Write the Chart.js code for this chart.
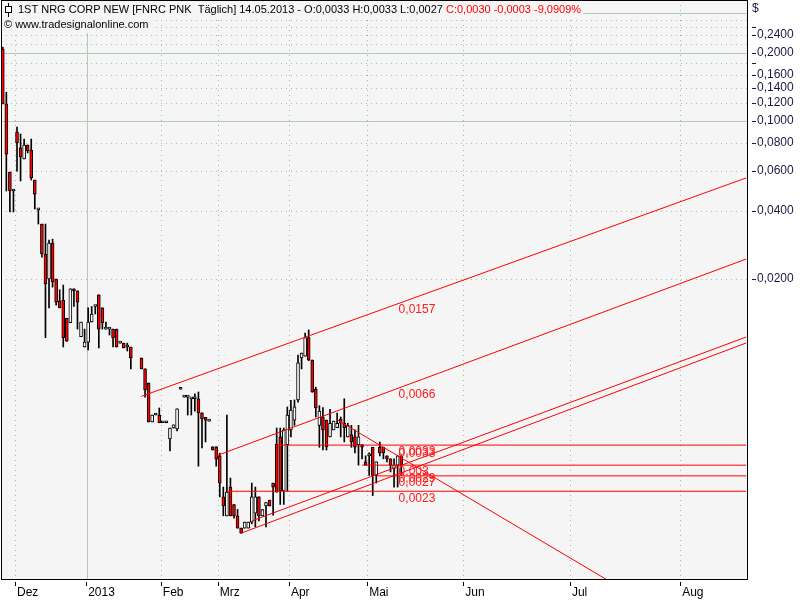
<!DOCTYPE html>
<html>
<head>
<meta charset="utf-8">
<script src="https://cdn.jsdelivr.net/npm/chart.js@4.4.1/dist/chart.umd.min.js"></script>
<style>
	html, body { margin: 0; padding: 0; background: #fff; }
	canvas { display: block; }
</style>
</head>
<body>
<canvas id="chart" width="800" height="600"></canvas>
<script>
// trading calendar (bars), then calendar days for the empty future part
const holidays = ['2012-12-25', '2013-01-01', '2013-01-21', '2013-02-18', '2013-03-29']
const noTradeDays = ['2013-02-11', '2013-02-19', '2013-02-25']
const firstDay = '2012-11-27'
const lastBarDay = '2013-05-14'
const lastDay = '2013-08-19'
const monthNames = ['2013', 'Feb', 'Mrz', 'Apr', 'Mai', 'Jun', 'Jul', 'Aug', 'Sep', 'Okt', 'Nov', 'Dez']

// OHLC, one entry per bar (null = no trade)
const opens = [
	0.208, 0.119, 0.0595, 0.049, 0.0894, 0.076, 0.0679, 0.0783, 0.0744, 0.0548,
	0.0404, 0.035, 0.0258, 0.020, 0.0288, 0.020, 0.016, 0.0161, 0.0134, 0.0128,
	0.0181, 0.0177, 0.0111, 0.0100, 0.0105, 0.0129, 0.0151, 0.0170, 0.0149, 0.0120,
	0.0120, 0.0120, 0.0120, 0.0104, 0.0104, 0.0100, 0.0100, null, null, 0.00894,
	0.0080, 0.00693, 0.00466, 0.0050, 0.0050, 0.00462, 0.00462, 0.00392, 0.00438, 0.00434,
	0.0065, 0.0060, 0.0060, 0.00589, 0.0059, 0.00589, 0.00511, 0.00488, 0.0047, 0.00362,
	0.00362, 0.0033, 0.00217, 0.00179, 0.0024, 0.00201, 0.00179, 0.00158, 0.00158, 0.00158,
	0.00168, 0.00184, 0.00217, 0.00179, 0.00198, 0.0021, 0.0025, 0.00372, 0.0040, 0.00231,
	0.0037, 0.0043, 0.00475, 0.00583, 0.00894, 0.0091, 0.0110, 0.00876, 0.0065, 0.0045,
	0.0049, 0.00475, 0.0040, 0.0043, 0.0044, 0.0048, 0.0046, 0.0040, 0.0041, 0.0040,
	0.0037, 0.0037, 0.0031, 0.0033, 0.0036, 0.0027, 0.0036, 0.0036, 0.0033, 0.0032,
	0.0029, 0.0030, 0.0033,
]
const highs = [
	0.212, 0.134, 0.0595, 0.049, 0.094, 0.0876, 0.0832, 0.0783, 0.0832, 0.0548,
	0.0404, 0.035, 0.035, 0.0297, 0.030, 0.020, 0.0179, 0.0188, 0.0134, 0.0181,
	0.0181, 0.0177, 0.0129, 0.0120, 0.0149, 0.0151, 0.0151, 0.0170, 0.0149, 0.0129,
	0.0120, 0.0120, 0.0120, 0.0104, 0.0104, 0.0104, 0.0100, null, null, 0.00894,
	0.0080, 0.00693, 0.0050, 0.0050, 0.00537, 0.00462, 0.00462, 0.00438, 0.00452, 0.00532,
	0.0065, 0.0060, 0.0060, 0.00589, 0.0062, 0.00632, 0.00511, 0.00488, 0.0047, 0.00362,
	0.00362, 0.00339, 0.0024, 0.0050, 0.00263, 0.00201, 0.00191, 0.00158, 0.00168, 0.00168,
	0.0025, 0.0024, 0.00217, 0.00191, 0.00205, 0.0021, 0.0025, 0.00438, 0.00438, 0.00438,
	0.00543, 0.0058, 0.00583, 0.00922, 0.0094, 0.01153, 0.0119, 0.00876, 0.00664, 0.0055,
	0.0054, 0.00475, 0.0053, 0.0047, 0.0051, 0.0049, 0.0059, 0.0046, 0.0045, 0.0043,
	0.0045, 0.0037, 0.0033, 0.0034, 0.0036, 0.0031, 0.0038, 0.0036, 0.0033, 0.0032,
	0.0032, 0.0033, 0.0033,
]
const lows = [
	0.119, 0.049, 0.0396, 0.0396, 0.060, 0.0543, 0.0679, 0.0722, 0.0548, 0.0408,
	0.035, 0.025, 0.011, 0.0149, 0.0184, 0.0153, 0.0149, 0.0100, 0.0106, 0.0128,
	0.0151, 0.0120, 0.0111, 0.0100, 0.0097, 0.0129, 0.0140, 0.0099, 0.0120, 0.0120,
	0.0113, 0.0100, 0.0100, 0.0104, 0.0099, 0.0096, 0.0080, null, null, 0.0080,
	0.0060, 0.00466, 0.00466, 0.0050, 0.00462, 0.00462, 0.00462, 0.00347, 0.00438, 0.00425,
	0.0065, 0.0060, 0.0050, 0.0050, 0.0052, 0.00297, 0.00358, 0.0038, 0.0047, 0.0035,
	0.00297, 0.00217, 0.00179, 0.00179, 0.00179, 0.00175, 0.00158, 0.0015, 0.00158, 0.00158,
	0.00165, 0.0016, 0.0017, 0.00179, 0.0016, 0.00198, 0.0018, 0.00228, 0.00201, 0.00201,
	0.0023, 0.0040, 0.0045, 0.0057, 0.0080, 0.0091, 0.0087, 0.0063, 0.0049, 0.0036,
	0.0035, 0.0035, 0.0040, 0.0043, 0.0044, 0.0040, 0.0038, 0.0040, 0.0036, 0.0034,
	0.0030, 0.0032, 0.0030, 0.0027, 0.0022, 0.0025, 0.0033, 0.0032, 0.0031, 0.0028,
	0.0024, 0.0024, 0.0027,
]
const closes = [
	0.119, 0.0714, 0.049, 0.049, 0.0799, 0.0693, 0.0783, 0.0737, 0.056, 0.0475,
	0.0404, 0.0258, 0.019, 0.0288, 0.0194, 0.0158, 0.0149, 0.0110, 0.0106, 0.0181,
	0.0177, 0.0158, 0.0129, 0.0105, 0.0129, 0.0140, 0.0151, 0.0120, 0.0128, 0.0120,
	0.0120, 0.0110, 0.0100, 0.0104, 0.0099, 0.0102, 0.00894, null, null, 0.0080,
	0.00645, 0.00466, 0.0050, 0.0050, 0.00462, 0.00462, 0.00462, 0.00438, 0.00452, 0.00532,
	0.0065, 0.0060, 0.0060, 0.00589, 0.0059, 0.00511, 0.0048, 0.00475, 0.0047, 0.0035,
	0.00319, 0.0025, 0.00198, 0.00228, 0.00179, 0.00179, 0.00158, 0.0015, 0.00168, 0.00168,
	0.00217, 0.00217, 0.00179, 0.00191, 0.00205, 0.00198, 0.0024, 0.00228, 0.00231, 0.0043,
	0.0050, 0.00526, 0.00543, 0.0085, 0.0094, 0.0110, 0.00876, 0.00632, 0.00537, 0.0052,
	0.0043, 0.00362, 0.0046, 0.0047, 0.0046, 0.0046, 0.0044, 0.0045, 0.0038, 0.0036,
	0.0040, 0.0036, 0.0030, 0.0033, 0.0027, 0.0031, 0.0034, 0.0034, 0.0032, 0.0030,
	0.0030, 0.0033, 0.0030,
]

// drawn trend lines: [start day, start value, end day, end value]
const trendLines = [
	['2013-01-24', 0.00605, '2013-08-19', 0.0560],
	['2013-02-28', 0.0033, '2013-08-19', 0.0245],
	['2013-03-11', 0.0015, '2013-08-19', 0.01042],
	['2013-03-14', 0.0017, '2013-08-19', 0.01107],
	['2013-04-18', 0.00476, '2013-07-11', 0.00093],
	['2013-03-25', 0.00368, '2013-08-19', 0.00368],
	['2013-04-29', 0.0030, '2013-08-19', 0.0030],
	['2013-05-03', 0.00269, '2013-08-19', 0.00269],
	['2013-03-05', 0.0023, '2013-08-19', 0.0023],
]
const lineLabels = ['0,0157', '0,0066', '0,0033', '0,0033', '0,003', '0,0029', '0,0027', '0,0023']
const lineLabelLevels = [0.0157, 0.0066, 0.00368, 0.00362, 0.0030, 0.00280, 0.00269, 0.0023]
const lineLabelDay = '2013-05-13'

const yTickValues = [0.02, 0.04, 0.06, 0.08, 0.1, 0.12, 0.14, 0.16, 0.2, 0.24]
const yMinorDashes = [0.18, 0.26]
const yDottedLevels = [0.02, 0.04, 0.06, 0.08, 0.12, 0.14, 0.16, 0.18, 0.22, 0.24, 0.26, 0.28]
const ySolidLevels = [0.1, 0.2, 0.3]

const titleBlack = '1ST NRG CORP NEW [FNRC PNK  Täglich] 14.05.2013 - O:0,0033 H:0,0033 L:0,0027 '
const titleRed = 'C:0,0030 -0,0003 -9,0909%'
const copyright = '© www.tradesignalonline.com'

const FONT = '"Liberation Sans", Arial, sans-serif'

function isoDay(d) {
	return d.toISOString().slice(0, 10)
}

function buildDays() {
	const out = []
	const endBars = new Date(lastBarDay + 'T00:00:00Z')
	const end = new Date(lastDay + 'T00:00:00Z')
	let d = new Date(firstDay + 'T00:00:00Z')
	while (d <= end) {
		const s = isoDay(d)
		const wd = d.getUTCDay()
		const trading = wd !== 0 && wd !== 6 && !holidays.includes(s) && !noTradeDays.includes(s)
		if (d > endBars || trading) out.push(s)
		d = new Date(d.getTime() + 86400000)
	}
	return out
}

const days = buildDays()

function monthStarts() {
	const res = []
	for (let i = 1; i < days.length; i++) {
		if (days[i].slice(5, 7) !== days[i - 1].slice(5, 7)) res.push(i)
	}
	return res
}
const monthIdx = monthStarts()

const wicks = lows.map((l, i) => (l == null ? null : [l, highs[i]]))
const bodies = opens.map((o, i) =>
	o == null ? null : [Math.min(o, closes[i]), Math.max(o, closes[i])]
)

function fmt(v) {
	return v.toFixed(4).replace('.', ',')
}

const decorPlugin = {
	id: 'decor',
	beforeDatasetsDraw(chart) {
		const { ctx, chartArea: a, scales } = chart
		const x = scales.x
		const y = scales.y
		ctx.save()
		ctx.fillStyle = '#f5f5f5'
		ctx.fillRect(a.left, a.top, a.right - a.left, a.bottom - a.top)

		ctx.lineWidth = 1
		// dotted horizontals
		ctx.strokeStyle = '#a3bda3'
		ctx.setLineDash([1, 4])
		yDottedLevels.forEach((v) => {
			const py = Math.round(y.getPixelForValue(v)) + 0.5
			ctx.beginPath()
			ctx.moveTo(a.left, py)
			ctx.lineTo(a.right, py)
			ctx.stroke()
		})
		// dotted verticals at month starts
		const half = (x.getPixelForValue(1) - x.getPixelForValue(0)) / 2
		monthIdx.forEach((i) => {
			if (days[i].slice(5, 7) === '01') return
			const px = Math.round(x.getPixelForValue(i) - half) + 0.5
			ctx.beginPath()
			ctx.moveTo(px, a.top)
			ctx.lineTo(px, a.bottom)
			ctx.stroke()
		})
		ctx.setLineDash([])
		ctx.strokeStyle = '#b2ccb2'
		ySolidLevels.forEach((v) => {
			const py = Math.round(y.getPixelForValue(v)) + 0.5
			ctx.beginPath()
			ctx.moveTo(a.left, py)
			ctx.lineTo(a.right, py)
			ctx.stroke()
		})
		monthIdx.forEach((i) => {
			if (days[i].slice(5, 7) !== '01') return
			const px = Math.round(x.getPixelForValue(i) - half) + 1.5
			ctx.beginPath()
			ctx.moveTo(px, a.top)
			ctx.lineTo(px, a.bottom)
			ctx.stroke()
		})
		ctx.restore()
	},
	afterDraw(chart) {
		const { ctx, chartArea: a, scales } = chart
		const x = scales.x
		const y = scales.y
		ctx.save()

		// labels on the drawn lines
		ctx.font = '12px ' + FONT
		ctx.fillStyle = '#ff1a1a'
		ctx.textBaseline = 'top'
		ctx.textAlign = 'left'
		const lx = x.getPixelForValue(days.indexOf(lineLabelDay)) + 1
		lineLabels.forEach((t, i) => {
			ctx.fillText(t, lx, y.getPixelForValue(lineLabelLevels[i]) + 1)
		})

		// header boxes
		ctx.font = '11px ' + FONT
		ctx.textBaseline = 'middle'
		const wB = ctx.measureText(titleBlack).width
		const wR = ctx.measureText(titleRed).width
		const wC = ctx.measureText(copyright).width
		ctx.fillStyle = '#f5f5f5'
		ctx.fillRect(a.left + 1, a.top + 1, 18 + wB + wR, 17)
		ctx.fillRect(a.left + 1, a.top + 18, 4 + wC + 3, 15)
		ctx.fillStyle = '#000'
		ctx.fillText(titleBlack, 18, 10)
		ctx.fillStyle = '#ff0000'
		ctx.fillText(titleRed, 18 + wB, 10)
		ctx.fillStyle = '#000'
		ctx.fillText(copyright, 4, 25)
		// candle icon
		ctx.strokeStyle = '#000'
		ctx.lineWidth = 1
		ctx.beginPath()
		ctx.moveTo(8.5, 3)
		ctx.lineTo(8.5, 17)
		ctx.stroke()
		ctx.fillStyle = '#fff'
		ctx.fillRect(5.5, 6.5, 6, 6)
		ctx.strokeRect(5.5, 6.5, 6, 6)

		// frame
		ctx.strokeStyle = '#000'
		ctx.strokeRect(Math.round(a.left) + 0.5, Math.round(a.top) + 0.5,
			Math.round(a.right - a.left) - 1, Math.round(a.bottom - a.top) - 1)

		// x tick marks
		const half = (x.getPixelForValue(1) - x.getPixelForValue(0)) / 2
		monthIdx.forEach((i) => {
			const px = Math.round(x.getPixelForValue(i) - half) + 0.5
			ctx.beginPath()
			ctx.moveTo(px, a.bottom + 2)
			ctx.lineTo(px, a.bottom + 6)
			ctx.stroke()
		})
		// y dashes
		ctx.strokeStyle = '#1a1a40'
		yTickValues.concat(yMinorDashes).forEach((v) => {
			const py = Math.round(y.getPixelForValue(v)) + 0.5
			ctx.beginPath()
			ctx.moveTo(a.right + 4, py)
			ctx.lineTo(a.right + 8, py)
			ctx.stroke()
		})
		ctx.fillStyle = '#1a1a40'
		ctx.font = '12px ' + FONT
		ctx.textBaseline = 'middle'
		ctx.fillText('$', a.right + 4, 9)
		ctx.restore()
	},
}

const lineSets = trendLines.map((l) => ({
	type: 'line',
	data: [
		{ x: l[0], y: l[1] },
		{ x: l[2], y: l[3] },
	],
	borderColor: '#ff0000',
	borderWidth: 1,
	pointRadius: 0,
	fill: false,
	tension: 0,
	order: 0,
}))

new Chart(document.getElementById('chart'), {
	type: 'bar',
	data: {
		labels: days,
		datasets: [
			{
				label: 'wick',
				data: wicks,
				backgroundColor: '#000',
				borderWidth: 0,
				barThickness: 1,
				minBarLength: 1,
				grouped: false,
				order: 2,
			},
			{
				label: 'body',
				data: bodies,
				backgroundColor: (c) =>
					closes[c.dataIndex] < opens[c.dataIndex] ? '#ff0000' : '#ffffff',
				borderColor: '#000',
				borderWidth: 1,
				borderSkipped: false,
				barThickness: 3,
				minBarLength: 2,
				grouped: false,
				order: 1,
			},
			...lineSets,
		],
	},
	options: {
		responsive: false,
		animation: false,
		events: [],
		layout: { padding: { left: 1, top: 0, right: 0, bottom: 0 } },
		plugins: { legend: { display: false }, tooltip: { enabled: false } },
		scales: {
			x: {
				type: 'category',
				grid: { display: false, drawTicks: false },
				border: { display: false },
				ticks: {
					autoSkip: false,
					maxRotation: 0,
					minRotation: 0,
					align: 'start',
					padding: 5,
					color: '#000',
					font: { family: FONT, size: 12 },
					callback(value) {
						if (!monthIdx.includes(value)) return ''
						return monthNames[parseInt(days[value].slice(5, 7), 10) - 1]
					},
				},
				afterFit(s) {
					s.height = 20
					s.paddingLeft = 0
					s.paddingRight = 0
				},
			},
			y: {
				type: 'logarithmic',
				position: 'right',
				min: 0.000931,
				max: 0.3431,
				grid: { display: false, drawTicks: false },
				border: { display: false },
				ticks: {
					padding: 9,
					color: '#1a1a40',
					font: { family: FONT, size: 12 },
					callback: (v) => fmt(v),
				},
				afterBuildTicks(s) {
					s.ticks = yTickValues.map((v) => ({ value: v }))
				},
				afterFit(s) {
					s.width = 52
					s.paddingTop = 0
					s.paddingBottom = 0
				},
			},
		},
	},
	plugins: [decorPlugin],
})
</script>
</body>
</html>
